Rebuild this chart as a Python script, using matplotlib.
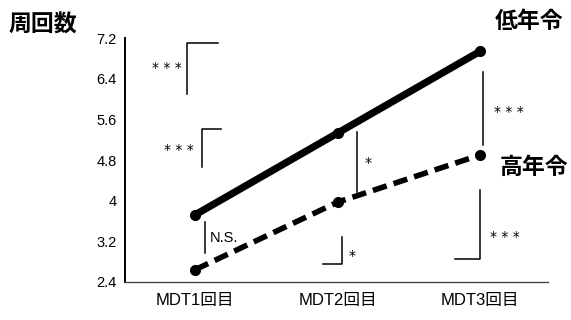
import matplotlib.pyplot as plt

plt.rcParams['font.family'] = ['Liberation Sans', 'Noto Sans CJK JP']

# data
sessions = ["MDT1回目", "MDT2回目", "MDT3回目"]
young = [3.72, 5.33, 6.94]   # 低年令
old = [2.64, 3.97, 4.90]     # 高年令
yticks = [2.4, 3.2, 4, 4.8, 5.6, 6.4, 7.2]
yticklabels = ["2.4", "3.2", "4", "4.8", "5.6", "6.4", "7.2"]

fig = plt.figure(figsize=(5.71, 3.2), dpi=100)
ax = fig.add_axes([0.219, 0.119, 0.741, 0.762])

x = range(len(sessions))
ax.plot(x, young, color="black", lw=5.2, marker="o", ms=7, solid_capstyle="round")
ax.plot(x, old, color="black", lw=4, ls=(0, (2.6, 1.3)), marker="o", ms=7)

ax.set_xlim(-0.491, 2.477)
ax.set_ylim(2.4, 7.2)
ax.set_xticks(list(x))
ax.set_xticklabels(sessions, fontsize=12)
ax.set_yticks(yticks)
ax.set_yticklabels(yticklabels, fontsize=10.5)
ax.tick_params(axis="x", length=0, pad=8)
ax.tick_params(axis="y", length=0, pad=6)
ax.set_yticks([3.2, 5.6], minor=True)
ax.tick_params(axis="y", which="minor", length=4, width=0.8)

for s in ["top", "right"]:
    ax.spines[s].set_visible(False)
ax.spines["left"].set_linewidth(1.4)
ax.spines["bottom"].set_linewidth(1.0)
ax.spines["bottom"].set_color("#444444")


# significance brackets: list of (x, y) points
def bracket(pts):
    xs, ys = zip(*pts)
    ax.plot(xs, ys, color="black", lw=1.1, clip_on=False)


star_kw = dict(fontsize=10, ha="center", va="center", family="DejaVu Sans")

bracket([(-0.056, 6.10), (-0.056, 7.10), (0.161, 7.10)])
ax.text(-0.196, 6.62, "* * *", **star_kw)

bracket([(0.049, 4.66), (0.049, 5.41), (0.182, 5.41)])
ax.text(-0.112, 4.99, "* * *", **star_kw)

bracket([(0.070, 2.97), (0.070, 3.58)])
ax.text(0.100, 3.27, "N.S.", fontsize=10.5, ha="left", va="center")

bracket([(1.137, 4.17), (1.137, 5.35)])
ax.text(1.214, 4.75, "*", **star_kw)

bracket([(0.898, 2.754), (1.032, 2.754), (1.032, 3.285)])
ax.text(1.100, 2.92, "*", **star_kw)

bracket([(2.021, 5.095), (2.021, 6.53)])
ax.text(2.204, 5.75, "* * *", **star_kw)

bracket([(1.825, 2.85), (2.0, 2.85), (2.0, 4.21)])
ax.text(2.175, 3.275, "* * *", **star_kw)

# titles and group labels
fig.text(8 / 571, 1 - 25 / 320, "周回数", fontsize=16.5, fontweight="bold", ha="left", va="center")
fig.text(529 / 571, 1 - 21 / 320, "低年令", fontsize=16.5, fontweight="bold", ha="center", va="center")
fig.text(534 / 571, 1 - 167 / 320, "高年令", fontsize=16.5, fontweight="bold", ha="center", va="center")

fig.savefig("out.png", dpi=100)
